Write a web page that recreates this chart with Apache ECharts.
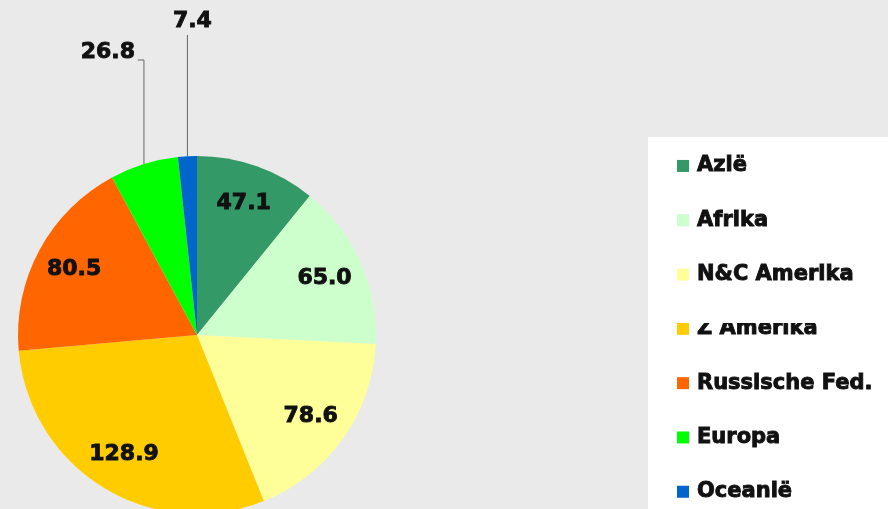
<!DOCTYPE html>
<html>
<head>
<meta charset="utf-8">
<script src="https://cdn.jsdelivr.net/npm/echarts@6/dist/echarts.min.js"></script>
<style>
  html, body { margin: 0; padding: 0; background: #eaeaea; }
  #main { width: 888px; height: 509px; }
</style>
</head>
<body>
<div id="main"></div>
<script>
// data
const regions = ['Azië', 'Afrika', 'N&C Amerika', 'Z Amerika', 'Russische Fed.', 'Europa', 'Oceanië']
const values = [47.1, 65.0, 78.6, 128.9, 80.5, 26.8, 7.4]
const colors = ['#339966', '#ccffcc', '#ffff99', '#ffcc00', '#ff6600', '#00ff00', '#0066cc']
const outside = ['Europa', 'Oceanië']

const cx = 197, cy = 335, r = 179
const total = values.reduce((a, b) => a + b, 0)

// middle of a slice, on a circle of radius rr (clockwise from 12 o'clock)
const midPoint = (i, rr) => {
  const before = values.slice(0, i).reduce((a, b) => a + b, 0)
  const ang = (before + values[i] / 2) / total * Math.PI * 2
  return [cx + rr * Math.sin(ang), cy - rr * Math.cos(ang)]
}

const boldText = {
  fontFamily: 'DejaVu Sans',
  fontWeight: 'bold',
  color: '#111',
  textBorderColor: '#111',
  textBorderWidth: 0.9
}

const chart = echarts.init(document.getElementById('main'))

chart.setOption({
  backgroundColor: '#eaeaea',
  animation: false,
  color: colors,
  graphic: [
    // legend box
    { type: 'rect', z: 0, shape: { x: 648, y: 137, width: 240, height: 372 }, style: { fill: '#fff' } },
    // the white strip that hides the top of "Z Amerika"
    { type: 'rect', z: 100, zlevel: 1, shape: { x: 660, y: 292, width: 228, height: 31 }, style: { fill: '#fff' } }
  ],
  legend: {
    orient: 'vertical',
    left: 677,
    top: 155,
    height: 420,
    padding: 0,
    icon: 'rect',
    itemWidth: 12,
    itemHeight: 12,
    itemGap: 32.4,
    selectedMode: false,
    textStyle: Object.assign({}, boldText, {
      fontSize: 21,
      lineHeight: 20,
      padding: [0, 0, 0, 3]
    }),
    data: regions
  },
  series: [
    {
      type: 'pie',
      center: [cx, cy],
      radius: r,
      startAngle: 90,
      clockwise: true,
      avoidLabelOverlap: false,
      silent: true,
      itemStyle: { borderWidth: 0 },
      label: Object.assign({}, boldText, {
        show: true,
        position: 'inside',
        formatter: (p) => p.value.toFixed(1),
        fontSize: 22
      }),
      labelLine: { show: false },
      labelLayout: (p) => {
        const i = p.dataIndex
        if (regions[i] === 'Oceanië') {
          const [x0, y0] = midPoint(i, r)
          return {
            x: x0 + 5, y: 21, align: 'center', verticalAlign: 'middle',
            labelLinePoints: [[x0, y0], [x0, 35], [x0, 35]]
          }
        }
        if (regions[i] === 'Europa') {
          const [x0, y0] = midPoint(i, r)
          return {
            x: x0 - 9, y: 52, align: 'right', verticalAlign: 'middle',
            labelLinePoints: [[x0, y0], [x0, 60], [x0 - 6, 60]]
          }
        }
        const [lx, ly] = midPoint(i, r * 0.78)
        return { x: lx, y: ly, align: 'center', verticalAlign: 'middle' }
      },
      data: regions.map((name, i) => {
        const item = { name: name, value: values[i] }
        if (outside.includes(name)) {
          item.label = { position: 'outside' }
          item.labelLine = { show: true, lineStyle: { color: '#666', width: 1 } }
        }
        return item
      })
    }
  ]
})
</script>
</body>
</html>
